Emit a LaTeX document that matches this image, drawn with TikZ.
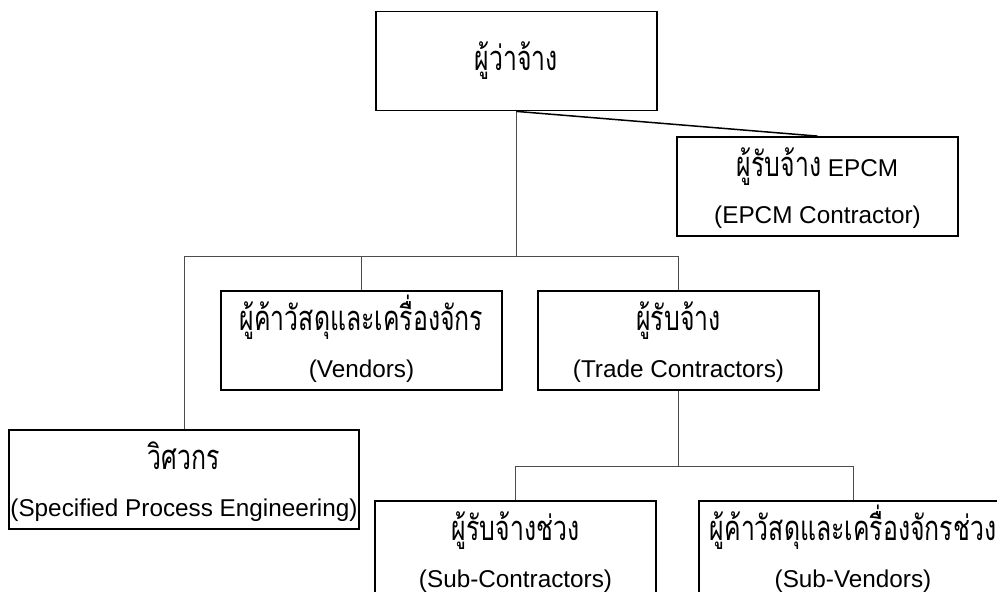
\documentclass[tikz,border=0pt]{standalone}
\usepackage{fontspec}
\setmainfont{Liberation Sans}
\newfontfamily\thai[Script=Thai,FakeStretch=0.72,Scale=1.42]{Loma}
% Thai first line, fixed height so all boxes line up
\newcommand\thline[1]{\smash{#1}\rule{0pt}{33pt}}

\begin{document}
\begin{tikzpicture}[x=1pt, y=-1pt,
		box/.style={draw, line width=1.8pt, rectangle, minimum height=99pt, align=center,
			inner sep=0pt, font=\fontsize{24.3}{47}\selectfont},
		link/.style={draw=black!70, line width=1pt}]
		\useasboundingbox (0,0) rectangle (997,592);
		\clip (0,0) rectangle (997,592);

		\node (boss)[box, minimum width=281pt] at (516.5,61) {{\thai ผู้ว่าจ้าง}};
		\node (epcm)[box, minimum width=281pt] at (817.5,186.5) {\thline{{\thai ผู้รับจ้าง} EPCM}\\(EPCM Contractor)};

		\node (vend)[box, minimum width=281pt] at (361.5,340.5) {\thline{\thai ผู้ค้าวัสดุและเครื่องจักร}\\(Vendors)};
		\node (trade)[box, minimum width=281pt] at (678.5,340.5) {\thline{\thai ผู้รับจ้าง}\\(Trade Contractors)};
		\node (eng)[box, minimum width=350pt] at (184,479.5) {\thline{\thai วิศวกร}\\(Specified Process Engineering)};

		\node (subc)[box, minimum width=281pt] at (515.5,550.5) {\thline{\thai ผู้รับจ้างช่วง}\\(Sub-Contractors)};
		\node (subv)[box, minimum width=308pt] at (853,550.5) {\thline{\thai ผู้ค้าวัสดุและเครื่องจักรช่วง}\\(Sub-Vendors)};

		\coordinate (bus1) at (0,256);
		\coordinate (bus2) at (0,466);

		\draw [link](boss.south) -- (boss.south |- bus1);
		\draw [link](eng.north) -- (eng.north |- bus1) -| (trade.north);
		\draw [link](vend.north) -- (vend.north |- bus1);
		\draw [line width=1.5pt](boss.south) -- (epcm.north);

		\draw [link](trade.south) -- (trade.south |- bus2);
		\draw [link](subc.north) |- (subv.north |- bus2) -- (subv.north);
	\end{tikzpicture}
\end{document}
